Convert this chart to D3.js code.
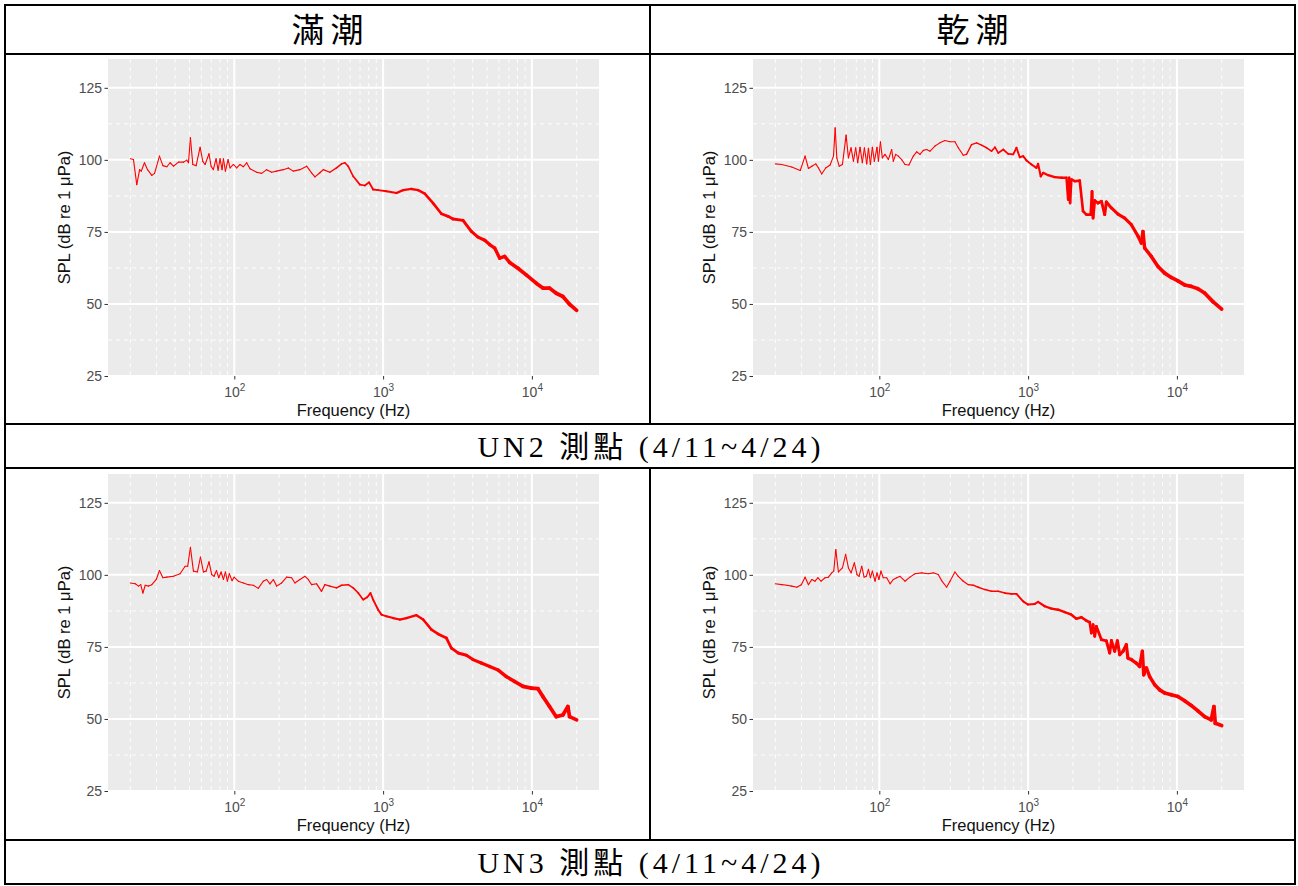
<!DOCTYPE html>
<html>
<head>
<meta charset="utf-8">
<script src="https://cdn.jsdelivr.net/npm/d3@7"></script>
<style>
  body { margin: 0; background: #fff; }
  svg { display: block; }
</style>
</head>
<body>
<svg id="chart" width="1298" height="886"></svg>
<script>
// Column and row captions of the comparison table
const tideLabels = ["滿潮", "乾潮"];
const stationLabels = ["UN2 測點 (4/11~4/24)", "UN3 測點 (4/11~4/24)"];

// Axis ticks
const splTicks = [25, 50, 75, 100, 125];
const splMinor = [37.5, 62.5, 87.5, 112.5];
const freqTicks = [100, 1000, 10000];
const splLimits = [25, 135];

// Spectra: [frequency (Hz), SPL (dB re 1 µPa)]
const un2High = [
  [20,100.4],[21.0,100.1],[22.1,91.4],[23.1,96.6],[23.7,96.1],[24.9,99.0],[26.1,96.6],[27.9,94.6],
  [29.1,95.3],[31.4,101.3],[33.1,98.0],[35.2,97.6],[37.0,99.0],[39.0,97.8],[42.1,99.2],[45.5,99.2],
  [47.9,99.9],[49.2,99.0],[50.7,107.7],[52.6,98.4],[55.4,98.0],[58.9,104.4],[61.4,99.5],[63.6,98.4],
  [67.6,102.1],[69.8,97.8],[72.3,96.6],[75.4,100.4],[77.8,96.4],[80.2,100.4],[82.7,96.6],[84.5,100.4],
  [87.1,96.1],[90.8,100.1],[93.6,97.2],[98.6,98.4],[103.8,97.2],[109.2,98.4],[115.0,97.6],[121.1,99.0],
  [127.4,96.9],[141.3,95.7],[152.7,95.3],[164.9,96.6],[178.2,95.7],[192.4,96.1],[213.3,96.6],[230.6,97.2],
  [248.9,96.1],[276.1,96.6],[306.1,97.8],[330.6,95.5],[348.3,94.1],[375.8,95.5],[396.3,96.6],[438.5,95.7],
  [486.3,97.2],[526.0,98.6],[553.6,99.0],[582.1,97.8],[629.5,94.3],[698.2,91.4],[753.5,91.1],[805.4,92.2],
  [857.0,89.7],[926.1,89.5],[1054,89.1],[1230,88.5],[1364,89.5],[1549,89.9],[1718,89.5],[1905,88.3],
  [2166,85.0],[2464,81.3],[2733,80.4],[2951,79.5],[3444,79.0],[3918,75.2],[4345,73.2],[4818,72.1],
  [5202,70.6],[5623,69.4],[6073,65.9],[6561,66.5],[7088,64.4],[8054,62.4],[9161,60.1],[10690,57.2],
  [11850,55.5],[13140,55.5],[14570,53.7],[16150,52.6],[17910,49.9],[20000,47.8]
];

const un2Low = [
  [20,98.6],[22.1,98.4],[25.8,97.5],[29.4,96.3],[31.7,101.3],[33.4,97.0],[35.2,97.8],[37.4,98.6],
  [39.0,97.2],[41.0,95.1],[43.6,97.2],[46.7,98.2],[49.2,101.3],[50.5,111.1],[51.8,100.7],[53.7,97.8],
  [56.5,98.4],[59.8,108.6],[62.0,100.7],[64.6,104.2],[67.0,99.5],[69.4,104.2],[71.6,99.0],[74.2,104.4],
  [76.9,99.0],[79.4,104.2],[82.3,98.6],[84.5,104.0],[87.1,98.4],[89.8,104.4],[92.6,99.5],[96.5,104.4],
  [98.6,99.5],[101.7,106.3],[104.8,100.7],[109.2,101.9],[115.0,100.1],[121.1,103.6],[124.2,99.5],[128.8,101.9],
  [134.2,101.3],[141.3,100.1],[148.8,98.4],[158.1,98.2],[169.3,101.3],[178.2,102.8],[187.6,101.9],[197.6,103.3],
  [208.1,103.6],[219.0,103.0],[236.6,104.8],[255.4,105.9],[276.1,106.7],[298.5,106.3],[322.3,106.3],[339.5,104.2],
  [366.6,101.6],[385.7,101.9],[416.7,105.3],[450.6,105.9],[486.3,105.1],[526.0,104.2],[567.7,103.0],[598.4,104.4],
  [629.5,102.4],[680.8,103.6],[734.5,102.1],[794.3,101.9],[835.6,104.2],[879.0,100.9],[926.1,101.3],[974.7,99.8],
  [1054,98.4],[1138,97.2],[1167,98.6],[1216,94.3],[1262,95.5],[1364,94.7],[1510,94.0],[1675,93.8],
  [1811,93.8],[1858,86.2],[1888,93.8],[1915,85.0],[1954,93.2],[2059,92.6],[2223,92.8],[2339,82.2],
  [2464,81.0],[2636,81.0],[2690,89.1],[2733,79.8],[2805,85.9],[2951,85.0],[3112,85.6],[3273,81.0],
  [3357,85.4],[3631,83.3],[4018,81.2],[4457,79.8],[4943,77.5],[5482,73.5],[5768,71.1],[5916,75.2],
  [6073,69.4],[6730,66.5],[7464,63.0],[8278,60.7],[9161,59.2],[10160,58.0],[11270,56.6],[12480,56.1],
  [13840,55.3],[15350,53.8],[17460,50.8],[20000,48.2]
];

const un3High = [
  [20,97.2],[21.6,96.9],[22.7,96.1],[23.5,96.6],[24.3,93.7],[25.2,96.4],[26.5,96.1],[27.9,96.6],
  [29.9,98.4],[31.4,101.5],[33.1,99.0],[35.2,99.2],[39.0,99.5],[43.2,100.4],[46.7,103.0],[48.6,103.0],
  [50.7,109.6],[53.1,101.3],[56.5,101.0],[59.2,106.2],[62.0,101.0],[64.6,101.3],[67.6,104.5],[70.5,100.1],
  [73.1,99.5],[75.9,101.5],[78.6,99.0],[81.5,101.0],[84.5,98.4],[87.1,101.0],[89.8,97.8],[92.6,100.4],
  [96.5,98.0],[99.7,99.2],[106.3,97.8],[115.0,97.2],[124.2,96.6],[134.2,96.4],[144.9,95.3],[156.5,97.8],
  [164.9,98.4],[173.6,96.9],[183.0,98.4],[192.4,96.1],[208.1,97.2],[224.9,99.2],[242.8,99.0],[255.4,97.2],
  [276.1,98.4],[298.5,99.5],[314.1,98.4],[330.6,96.6],[357.3,96.9],[385.7,94.3],[406.0,96.6],[438.5,96.1],
  [486.3,95.5],[526.0,96.4],[582.1,96.6],[629.5,95.5],[680.8,93.7],[734.5,91.4],[781.6,92.2],[822.4,93.7],
  [857.0,91.4],[926.1,87.9],[974.7,86.2],[1054,85.6],[1167,85.0],[1294,84.5],[1435,85.0],[1675,86.0],
  [1858,84.5],[2113,81.0],[2339,79.5],[2661,78.1],[2877,74.6],[3191,72.9],[3631,72.1],[4018,70.6],
  [4571,69.4],[5202,68.2],[5916,67.0],[6730,64.7],[7656,63.0],[8710,61.3],[9908,60.7],[10990,60.5],
  [11850,57.8],[13140,54.3],[14570,50.8],[16150,51.4],[17460,54.3],[17910,50.8],[20000,49.7]
];

const un3Low = [
  [20,96.9],[22.1,96.6],[23.9,96.4],[25.8,96.1],[27.9,95.7],[29.9,96.6],[31.7,99.2],[33.4,96.6],
  [35.2,98.4],[37.0,97.8],[38.6,99.0],[40.6,97.8],[43.2,99.0],[45.5,99.2],[47.9,100.7],[49.4,101.3],
  [51.0,108.8],[53.1,101.0],[56.5,102.4],[59.4,107.1],[62.0,102.4],[64.6,100.7],[68.0,104.2],[70.8,100.1],
  [73.1,99.5],[76.2,103.0],[79.0,99.2],[81.8,99.5],[84.5,101.9],[87.1,99.0],[89.8,101.3],[93.6,97.8],
  [96.5,100.7],[99.4,98.4],[102.6,101.3],[106.3,99.0],[112.1,99.0],[118.1,96.9],[124.2,98.4],[130.9,99.0],
  [137.8,99.5],[148.8,97.8],[160.6,99.2],[173.6,100.4],[192.4,100.7],[213.3,100.4],[230.6,100.7],[248.9,100.1],
  [262.4,98.0],[283.3,95.7],[298.5,97.8],[322.3,101.0],[339.5,99.5],[366.6,97.8],[396.3,96.6],[427.3,96.4],
  [462.0,95.7],[512.6,94.9],[567.7,94.3],[629.5,94.3],[698.2,93.7],[773.5,93.4],[835.6,93.4],[926.1,90.8],
  [1000,89.7],[1109,89.9],[1167,90.6],[1294,89.1],[1435,88.3],[1591,87.9],[1763,87.1],[1954,86.2],
  [2113,84.8],[2280,85.3],[2464,84.1],[2594,83.6],[2661,79.8],[2733,82.7],[2805,78.7],[2877,82.1],
  [3112,77.5],[3357,77.1],[3533,72.9],[3631,77.2],[3818,73.5],[3981,77.1],[4130,72.3],[4345,73.5],
  [4571,75.8],[4688,71.1],[4943,70.6],[5333,69.4],[5623,68.2],[5861,73.5],[5984,65.3],[6237,67.7],
  [6561,64.7],[7088,61.9],[7656,60.1],[8278,59.0],[9161,58.4],[10160,57.8],[11270,56.3],[12480,54.7],
  [13840,52.8],[15350,50.8],[17020,49.7],[17740,54.3],[18110,48.5],[20000,47.7]
];

const panelSeries = [[un2High, un2Low], [un3High, un3Low]];

// Page layout
const svg = d3.select("#chart");
const W = 1298, H = 886;
const table = { left: 5, right: 1295, top: 5, bottom: 884, midX: 650,
                rows: [54, 424, 468, 840] };
const panelW = 491, panelH = 317;
const panelOrigin = (r, c) => ({ x: 108 + c * 645, y: 59 + r * 415 });

const fontSans = "'Liberation Sans', Arial, sans-serif";
const fontTable = "'Liberation Serif', 'Times New Roman', 'Noto Sans CJK TC', serif";
const fontCjk = "'Noto Sans CJK TC', 'Liberation Serif', serif";

function lineWidth(f) {
  const w = 1.1 + (Math.log10(f) - 2.5) * 1.8;
  return Math.max(1.1, Math.min(3.7, w));
}

function drawPanel(g, data) {
  const fExt = d3.extent(data, d => d[0]);
  const l0 = Math.log10(fExt[0]), l1 = Math.log10(fExt[1]);
  const pad = (l1 - l0) * 0.05;
  const x = d3.scaleLog().domain([10 ** (l0 - pad), 10 ** (l1 + pad)]).range([0, panelW]);
  const y = d3.scaleLinear().domain(splLimits).range([panelH, 0]);

  g.append("rect").attr("width", panelW).attr("height", panelH).attr("fill", "#EBEBEB");

  // Minor grid (dashed)
  const [d0, d1] = x.domain();
  const minorF = [];
  for (let k = 0; k <= 5; k++) for (let m = 2; m <= 9; m++) {
    const f = m * 10 ** k;
    if (f > d0 && f < d1) minorF.push(f);
  }
  g.append("g").selectAll("line").data(minorF).join("line")
    .attr("x1", d => x(d)).attr("x2", d => x(d)).attr("y1", 0).attr("y2", panelH)
    .attr("stroke", "#fff").attr("stroke-width", 0.9).attr("stroke-dasharray", "4,4");
  g.append("g").selectAll("line").data(splMinor).join("line")
    .attr("x1", 0).attr("x2", panelW).attr("y1", d => y(d)).attr("y2", d => y(d))
    .attr("stroke", "#fff").attr("stroke-width", 0.9).attr("stroke-dasharray", "4,4");

  // Major grid
  g.append("g").selectAll("line").data(freqTicks).join("line")
    .attr("x1", d => x(d)).attr("x2", d => x(d)).attr("y1", 0).attr("y2", panelH)
    .attr("stroke", "#fff").attr("stroke-width", 2);
  g.append("g").selectAll("line").data(splTicks).join("line")
    .attr("x1", 0).attr("x2", panelW).attr("y1", d => y(d)).attr("y2", d => y(d))
    .attr("stroke", "#fff").attr("stroke-width", 2);

  // Spectrum line, thicker where the spectrum is dense at high frequency
  const segs = d3.pairs(data);
  g.append("g").selectAll("line").data(segs).join("line")
    .attr("x1", d => x(d[0][0])).attr("y1", d => y(d[0][1]))
    .attr("x2", d => x(d[1][0])).attr("y2", d => y(d[1][1]))
    .attr("stroke", "#FF0000").attr("stroke-linecap", "round")
    .attr("stroke-width", d => lineWidth(Math.sqrt(d[0][0] * d[1][0])));

  // Axes
  const ya = g.append("g").call(d3.axisLeft(y).tickValues(splTicks).tickSize(3.5).tickPadding(2.5));
  ya.select(".domain").remove();
  ya.selectAll("line").attr("stroke", "#333").attr("stroke-width", 1);
  ya.selectAll("text").attr("fill", "#4D4D4D").style("font", `14px ${fontSans}`);

  const xa = g.append("g").attr("transform", `translate(0,${panelH})`)
    .call(d3.axisBottom(x).tickValues(freqTicks).tickSize(3.5).tickFormat(() => ""));
  xa.select(".domain").remove();
  xa.selectAll("line").attr("stroke", "#333").attr("stroke-width", 1);
  xa.selectAll(".tick").append("text")
    .attr("y", 21).attr("text-anchor", "middle").attr("fill", "#4D4D4D")
    .style("font", `14px ${fontSans}`)
    .each(function(d) {
      const t = d3.select(this);
      t.append("tspan").text("10");
      t.append("tspan").attr("dy", -6).style("font-size", "10px").text(Math.round(Math.log10(d)));
    });

  g.append("text")
    .attr("x", panelW / 2).attr("y", panelH + 40).attr("text-anchor", "middle")
    .attr("fill", "#111").style("font", `16.5px ${fontSans}`)
    .text("Frequency (Hz)");
  g.append("text")
    .attr("transform", `translate(${-44},${panelH / 2}) rotate(-90)`)
    .attr("text-anchor", "middle").attr("dy", "0.35em")
    .attr("fill", "#111").style("font", `16.5px ${fontSans}`)
    .text("SPL (dB re 1 μPa)");
}

for (let r = 0; r < 2; r++) {
  for (let c = 0; c < 2; c++) {
    const o = panelOrigin(r, c);
    drawPanel(svg.append("g").attr("transform", `translate(${o.x},${o.y})`), panelSeries[r][c]);
  }
}

// Table frame
const frame = svg.append("g").attr("stroke", "#000").attr("stroke-width", 2).attr("fill", "none");
frame.append("rect").attr("x", table.left).attr("y", table.top)
  .attr("width", table.right - table.left).attr("height", table.bottom - table.top);
table.rows.forEach(yy => frame.append("line")
  .attr("x1", table.left).attr("x2", table.right).attr("y1", yy).attr("y2", yy));
[[table.top, table.rows[1]], [table.rows[2], table.rows[3]]].forEach(([a, b]) =>
  frame.append("line").attr("x1", table.midX).attr("x2", table.midX).attr("y1", a).attr("y2", b));

// Captions
svg.append("g").selectAll("text").data(tideLabels).join("text")
  .attr("x", (d, i) => (i === 0 ? (table.left + table.midX) / 2 : (table.midX + table.right) / 2) + 3)
  .attr("y", (table.top + table.rows[0]) / 2 + 1).attr("dy", "0.35em")
  .attr("text-anchor", "middle").attr("fill", "#000")
  .style("font", `33px ${fontCjk}`).style("letter-spacing", "6px")
  .text(d => d);

svg.append("g").selectAll("text").data(stationLabels).join("text")
  .attr("x", W / 2 + 2)
  .attr("y", (d, i) => i === 0 ? (table.rows[1] + table.rows[2]) / 2 : (table.rows[3] + table.bottom) / 2)
  .attr("dy", "0.35em").attr("text-anchor", "middle").attr("fill", "#000")
  .style("font", `30px ${fontTable}`).style("letter-spacing", "4px")
  .text(d => d);
</script>
</body>
</html>
